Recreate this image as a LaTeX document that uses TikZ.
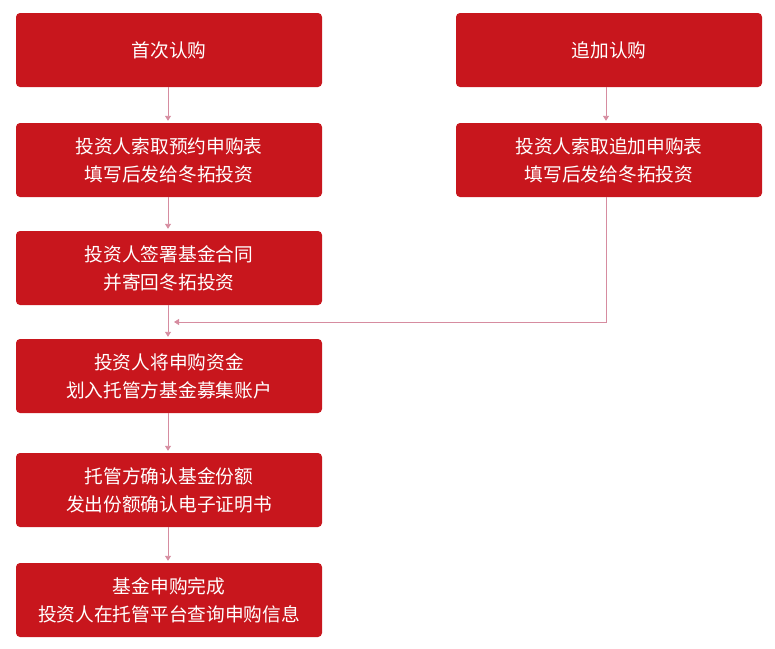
\documentclass[tikz,border=0pt]{standalone}
\usepackage{fontspec}
\setmainfont{Noto Sans CJK SC}
\usetikzlibrary{arrows.meta,positioning,calc}
\definecolor{flowred}{RGB}{200,22,29}
\definecolor{linkpink}{RGB}{214,140,160}

\tikzset{
    stepbox/.style={fill=flowred, text=white, rounded corners=4pt, minimum width=306pt, minimum height=74pt, align=center, font=\fontsize{18.7}{28}\selectfont, inner sep=0pt},
    link/.style={draw=linkpink, line width=0.9pt, -{Triangle[width=6pt,length=5pt]}, shorten >=2pt}
}

\begin{document}
\begin{tikzpicture}[x=1pt, y=-1pt]
    \useasboundingbox (0,0) rectangle (775,648);

    % Left column: first purchase
    \node[stepbox] (first) at (169, 50) {首次认购};
    \node[stepbox] (form) at (169, 160) {投资人索取预约申购表\\填写后发给冬拓投资};
    \node[stepbox] (sign) at (169, 268) {投资人签署基金合同\\并寄回冬拓投资};
    \node[stepbox] (pay) at (169, 376) {投资人将申购资金\\划入托管方基金募集账户};
    \node[stepbox] (confirm) at (169, 490) {托管方确认基金份额\\发出份额确认电子证明书};
    \node[stepbox] (done) at (169, 600) {基金申购完成\\投资人在托管平台查询申购信息};

    % Right column: additional purchase
    \node[stepbox] (extra) at (609, 50) {追加认购};
    \node[stepbox] (extraform) at (609, 160) {投资人索取追加申购表\\填写后发给冬拓投资};

    % Connectors
    \draw[link] ([xshift=-1pt]first.south) -- ([xshift=-1pt]form.north);
    \draw[link] ([xshift=-1pt]form.south) -- ([xshift=-1pt]sign.north);
    \draw[link] ([xshift=-1pt]sign.south) -- ([xshift=-1pt]pay.north);
    \draw[link] ([xshift=-1pt]pay.south) -- ([xshift=-1pt]confirm.north);
    \draw[link] ([xshift=-1pt]confirm.south) -- ([xshift=-1pt]done.north);
    \draw[link] ([xshift=-3pt]extra.south) -- ([xshift=-3pt]extraform.north);

    % Join into the left column
    \coordinate (join) at ($(sign.south)!0.5!(pay.north) + (-1,0)$);
    \draw[link, shorten >=6pt] ([xshift=-3pt]extraform.south) |- (join);
\end{tikzpicture}
\end{document}
